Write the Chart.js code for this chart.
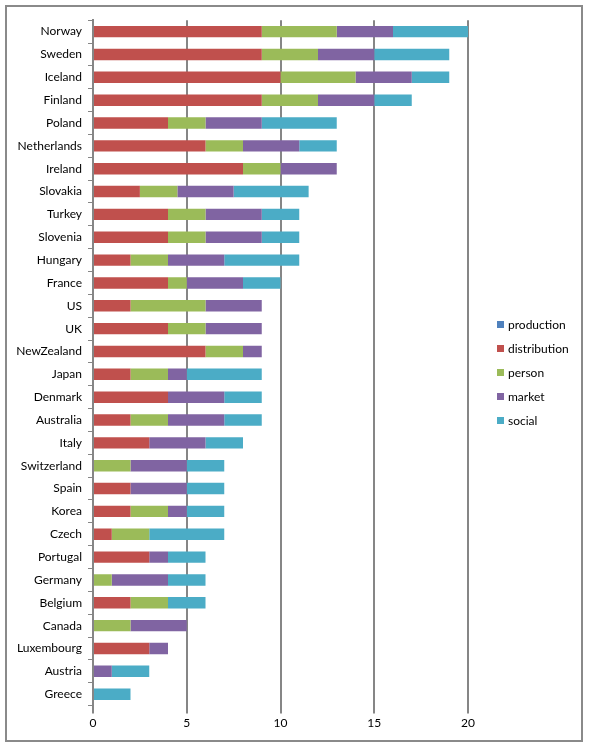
<!DOCTYPE html>
<html>
<head>
<meta charset="utf-8">
<script src="https://cdn.jsdelivr.net/npm/chart.js@4"></script>
<style>
  html, body { margin: 0; padding: 0; background: #fff; }
  #box {
    position: absolute; left: 5px; top: 5px;
    width: 578px; height: 737px;
    border: 2px solid #8a8a8a; box-sizing: border-box;
  }
  #c { display: block; }
  #legend {
    position: absolute; left: 490px; top: 306px;
    font: 12px Lato, "Open Sans", sans-serif; color: #000;
  }
  #legend div { height: 24px; line-height: 24px; white-space: nowrap; }
  #legend span {
    display: inline-block; width: 7px; height: 7px; margin-right: 4px;
    vertical-align: middle; position: relative; top: -1px;
  }
</style>
</head>
<body>
<div id="box">
  <canvas id="c" width="574" height="733"></canvas>
  <div id="legend"></div>
</div>
<script>
/* ─── data ─── */
const countries = ['Norway', 'Sweden', 'Iceland', 'Finland', 'Poland', 'Netherlands', 'Ireland',
    'Slovakia', 'Turkey', 'Slovenia', 'Hungary', 'France', 'US', 'UK', 'NewZealand', 'Japan',
    'Denmark', 'Australia', 'Italy', 'Switzerland', 'Spain', 'Korea', 'Czech', 'Portugal',
    'Germany', 'Belgium', 'Canada', 'Luxembourg', 'Austria', 'Greece'];

const production   = [0, 0, 0, 0, 0, 0, 0, 0, 0, 0, 0, 0, 0, 0, 0, 0, 0, 0, 0, 0, 0, 0, 0, 0, 0, 0, 0, 0, 0, 0];
const distribution = [9, 9, 10, 9, 4, 6, 8, 2.5, 4, 4, 2, 4, 2, 4, 6, 2, 4, 2, 3, 0, 2, 2, 1, 3, 0, 2, 0, 3, 0, 0];
const person       = [4, 3, 4, 3, 2, 2, 2, 2, 2, 2, 2, 1, 4, 2, 2, 2, 0, 2, 0, 2, 0, 2, 2, 0, 1, 2, 2, 0, 0, 0];
const market       = [3, 3, 3, 3, 3, 3, 3, 3, 3, 3, 3, 3, 3, 3, 1, 1, 3, 3, 3, 3, 3, 1, 0, 1, 3, 0, 3, 1, 1, 0];
const social       = [4, 4, 2, 2, 4, 2, 0, 4, 2, 2, 4, 2, 0, 0, 0, 4, 2, 2, 2, 2, 2, 2, 4, 2, 2, 2, 0, 0, 2, 2];

const xTicks = [0, 5, 10, 15, 20];

/* ─── colours ─── */
const COLORS = {
    production: '#4F81BD',
    distribution: '#C0504D',
    person: '#9BBB59',
    market: '#8064A2',
    social: '#4BACC6',
};
const GRID = '#868686';

Chart.defaults.font.family = 'Lato, "Open Sans", sans-serif';
Chart.defaults.font.size = 12;
Chart.defaults.color = '#000';

const series = { production, distribution, person, market, social };
const datasets = Object.keys(series).map(k => ({
    label: k,
    data: series[k],
    backgroundColor: COLORS[k],
    borderWidth: 0,
    barPercentage: 0.5,
    categoryPercentage: 1.0,
}));

/* legend as html, to sit apart from the plot like the original */
document.getElementById('legend').innerHTML = datasets
    .map(d => `<div><span style="background:${d.backgroundColor}"></span>${d.label}</div>`)
    .join('');

new Chart(document.getElementById('c'), {
    type: 'bar',
    data: { labels: countries, datasets },
    options: {
        indexAxis: 'y',
        responsive: false,
        animation: false,
        layout: { padding: { top: 12, bottom: 8, right: 113 } },
        plugins: {
            legend: { display: false },
            tooltip: { enabled: false },
        },
        scales: {
            x: {
                stacked: true,
                min: 0, max: 20,
                afterBuildTicks: s => { s.ticks = xTicks.map(v => ({ value: v })); },
                grid: { color: GRID, lineWidth: 2, tickLength: 8, drawTicks: true },
                border: { display: false },
                ticks: { padding: 2, color: '#000' },
            },
            y: {
                stacked: true,
                afterFit: s => { s.width = 86; },
                grid: { display: true, drawOnChartArea: false, color: GRID, lineWidth: 1, tickLength: 5, offset: true },
                border: { display: true, color: GRID, width: 2 },
                ticks: { padding: 6, color: '#000', autoSkip: false },
            },
        },
    },
});
</script>
</body>
</html>
